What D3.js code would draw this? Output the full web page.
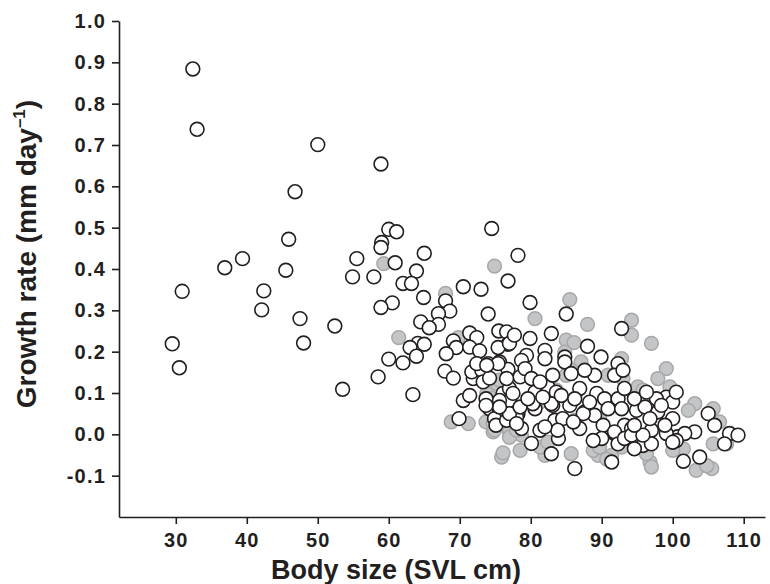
<!DOCTYPE html>
<html>
<head>
<meta charset="utf-8">
<script src="https://cdn.jsdelivr.net/npm/d3@7"></script>
<style>
  html, body { margin: 0; padding: 0; background: #fff; }
  svg { display: block; }
  text { font-family: "Liberation Sans", Arial, Helvetica, sans-serif; font-weight: bold; fill: #231f20; }
</style>
</head>
<body>
<svg id="chart" width="770" height="584"></svg>
<script>
// ---- Data ----
const xTicks = [30, 40, 50, 60, 70, 80, 90, 100, 110];
const yTicks = [-0.1, 0.0, 0.1, 0.2, 0.3, 0.4, 0.5, 0.6, 0.7, 0.8, 0.9, 1.0];
const xTitle = "Body size (SVL cm)";
const yTitle = "Growth rate (mm day";

// grey filled points (drawn underneath)
const svlFilled = [59.3,61.4,74.9,68.0,69.8,85.5,80.6,88.0,94.2,94.2,85.0,86.1,84.8,92.8,97.0,68.8,71.2,73.7,74.7,75.9,
  75.2,77.0,87.1,90.9,82.0,85.7,89.5,91.4,78.7,92.8,99.1,97.9,95.1,99.6,103.1,105.7,106.6,107.6,103.3,105.5,
  96.8,97.0,101.5,85.0,85.7,83.6,81.3,86.2,89.7,93.0,95.8,81.3,82.4,88.8,89.7,90.7,96.3,100.0,77.0,78.5,
  76.1,102.2,105.7,104.8,74.7,74.9,78.0,73.8,75.6,74.6];
const rateFilled = [0.413,0.234,0.407,0.341,0.234,0.326,0.280,0.266,0.276,0.240,0.228,0.222,0.199,0.183,0.220,0.030,0.026,0.030,0.006,-0.055,
  0.123,0.006,0.175,0.143,-0.051,-0.047,-0.051,-0.051,-0.002,-0.031,0.159,0.135,0.115,0.115,0.074,0.062,0.030,-0.023,-0.087,-0.083,
  -0.067,-0.079,-0.035,0.143,0.155,0.107,0.078,0.034,0.042,0.135,0.107,-0.031,-0.019,-0.039,-0.031,-0.060,-0.047,-0.039,-0.007,-0.039,
  -0.045,0.058,-0.023,-0.076,0.026,0.010,0.010,0.099,0.131,0.087];

// white open points (drawn on top)
const svlOpen = [32.4,33.0,50.0,58.9,46.8,45.9,60.0,61.1,59.0,58.9,36.9,39.4,45.5,55.5,54.9,57.9,60.9,62.0,30.9,42.4,
  42.1,60.5,58.9,47.5,52.4,29.5,30.5,48.0,60.0,62.0,58.5,53.5,74.5,65.0,63.9,63.2,78.2,76.8,70.5,73.0,
  64.9,68.0,68.6,67.0,74.0,64.5,67.0,65.7,75.5,76.6,71.4,72.4,69.1,76.8,75.4,64.1,63.0,65.0,69.5,68.1,
  71.4,72.8,63.9,79.9,85.0,92.8,82.9,79.9,88.0,82.0,79.4,84.8,89.9,63.4,67.9,69.1,70.5,71.4,71.9,71.7,
  73.1,74.0,72.4,73.3,74.2,75.6,76.8,69.9,73.7,74.2,75.6,74.9,75.1,76.1,77.0,75.6,76.6,77.0,80.1,82.0,
  84.8,89.0,92.3,78.7,78.5,80.6,82.4,83.6,85.5,86.9,87.6,89.3,90.4,92.3,93.2,78.2,80.6,83.1,83.4,86.9,
  84.5,89.0,90.2,91.8,93.2,78.7,82.9,83.9,86.2,90.0,91.4,105.0,105.9,108.0,109.2,107.3,101.5,103.8,103.1,100.7,
  99.1,100.0,101.7,97.9,99.1,100.0,97.0,95.8,94.6,94.9,96.1,97.7,77.0,82.9,87.4,100.5,97.0,80.3,78.0,77.0,
  94.2,91.8,78.0,75.6,73.7,78.5,77.5,76.6,75.4,73.8,79.2,80.1,81.3,83.1,85.7,87.6,91.8,93.0,79.6,81.7,
  84.3,86.2,88.3,90.9,92.8,81.3,83.8,88.8,92.3,93.2,82.0,86.0,94.6,96.3,100.5,98.4,96.8,98.9,94.2,100.0,
  95.8,94.6,77.7];
const rateOpen = [0.884,0.738,0.701,0.654,0.587,0.472,0.496,0.490,0.464,0.452,0.403,0.425,0.397,0.425,0.381,0.381,0.415,0.365,0.346,0.347,
  0.301,0.318,0.307,0.280,0.262,0.219,0.161,0.221,0.182,0.173,0.139,0.109,0.498,0.438,0.395,0.365,0.433,0.371,0.357,0.351,
  0.331,0.323,0.298,0.292,0.291,0.272,0.266,0.258,0.250,0.248,0.245,0.234,0.226,0.218,0.210,0.220,0.210,0.218,0.210,0.195,
  0.211,0.202,0.189,0.319,0.291,0.256,0.244,0.232,0.213,0.203,0.191,0.187,0.187,0.096,0.153,0.136,0.082,0.094,0.135,0.151,
  0.155,0.171,0.171,0.127,0.136,0.175,0.157,0.038,0.086,0.062,0.054,0.038,0.022,0.099,0.082,0.082,0.034,0.111,-0.022,0.183,
  0.175,0.143,0.171,0.179,0.139,0.102,0.115,0.102,0.070,0.111,0.054,0.099,0.086,0.086,0.111,0.050,0.062,0.070,0.034,0.014,
  0.038,0.046,0.022,0.002,0.022,0.014,-0.047,-0.010,-0.083,-0.010,-0.067,0.050,0.022,0.002,-0.002,-0.023,-0.065,-0.055,0.006,-0.006,
  0.002,0.038,0.002,0.054,0.090,0.078,0.010,-0.027,-0.035,0.058,0.066,0.086,0.220,0.074,0.050,-0.015,-0.023,0.074,0.042,0.050,
  0.014,0.006,0.026,0.066,0.070,0.066,0.099,0.135,0.171,0.167,0.159,0.135,0.127,0.143,0.147,0.155,0.143,0.155,0.086,0.090,
  0.094,0.086,0.078,0.062,0.062,0.010,0.010,-0.015,-0.023,-0.010,0.018,0.030,0.086,0.102,0.102,0.070,0.038,0.022,-0.002,-0.019,
  -0.002,0.022,0.240];

// ---- Drawing ----
const svg = d3.select("#chart");
svg.append("rect").attr("width", 770).attr("height", 584).attr("fill", "#fff");

const x = d3.scaleLinear().domain([22, 113]).range([119, 765]);
const y = d3.scaleLinear().domain([-0.2, 1.0]).range([517, 21]);

const filled = svlFilled.map((v, i) => ({ x: v, y: rateFilled[i] }));
const open = svlOpen.map((v, i) => ({ x: v, y: rateOpen[i] }));

const R = 6.9;
svg.append("g").selectAll("circle").data(filled).join("circle")
  .attr("cx", d => x(d.x)).attr("cy", d => y(d.y)).attr("r", R)
  .attr("fill", "#c4c5c7").attr("stroke", "#a7a8aa").attr("stroke-width", 1.5);

svg.append("g").selectAll("circle").data(open).join("circle")
  .attr("cx", d => x(d.x)).attr("cy", d => y(d.y)).attr("r", R)
  .attr("fill", "#fff").attr("stroke", "#231f20").attr("stroke-width", 1.6);

// axes
const yAxis = svg.append("g").attr("transform", "translate(119,0)")
  .call(d3.axisLeft(y).tickValues(yTicks).tickSize(7).tickSizeOuter(0).tickPadding(6)
    .tickFormat(d => d.toFixed(1)));
const xAxis = svg.append("g").attr("transform", "translate(0,517)")
  .call(d3.axisBottom(x).tickValues(xTicks).tickSize(7).tickSizeOuter(0).tickPadding(9)
    .tickFormat(d => String(d)));

[yAxis, xAxis].forEach(g => {
  g.select(".domain").attr("stroke", "#231f20").attr("stroke-width", 1.6);
  g.selectAll(".tick line").attr("stroke", "#231f20").attr("stroke-width", 1.6);
  g.selectAll(".tick text").style("font-size", "20px").style("font-family", "'Liberation Sans', Arial, sans-serif")
    .style("font-weight", "bold").style("letter-spacing", "1.2px").attr("fill", "#231f20");
});

// titles
svg.append("text")
  .attr("x", 396).attr("y", 579).attr("text-anchor", "middle")
  .style("font-size", "27px")
  .text(xTitle);

const yt = svg.append("text")
  .attr("transform", "translate(36,254) rotate(-90)")
  .attr("text-anchor", "middle")
  .style("font-size", "28px");
yt.append("tspan").text(yTitle);
yt.append("tspan").attr("dy", -11).style("font-size", "17px").text("\u20131");
yt.append("tspan").attr("dy", 11).text(")");
</script>
</body>
</html>
